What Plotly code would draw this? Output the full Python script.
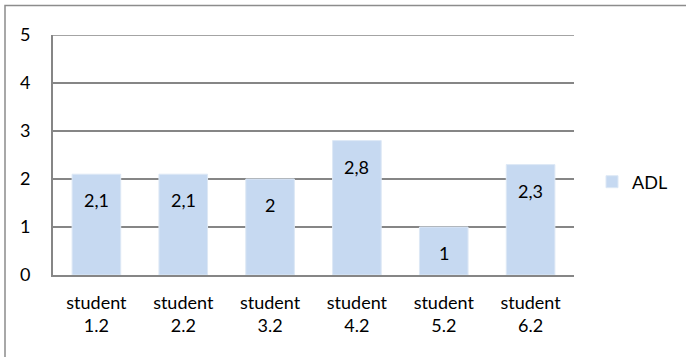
import plotly.graph_objects as go

categories = ["student<br>1.2", "student<br>2.2", "student<br>3.2", "student<br>4.2", "student<br>5.2", "student<br>6.2"]
values = [2.1, 2.1, 2.0, 2.8, 1.0, 2.3]
series_name = "ADL"
y_ticks = [0, 1, 2, 3, 4, 5]

def fmt(v):
    s = ("%g" % v)
    return s.replace(".", ",")

font_family = "Lato, 'Open Sans', sans-serif"
fsize = 18
bar_color = "#C6D9F1"
grid_color = "#868686"

fig = go.Figure()
fig.add_trace(go.Bar(
    x=categories, y=values, name=series_name,
    marker=dict(color=bar_color, line=dict(color="#DDE8F5", width=1)),
    showlegend=True,
))

for c, v in zip(categories, values):
    fig.add_annotation(x=c, y=v, text=fmt(v), showarrow=False, yshift=-26,
                       font=dict(family=font_family, size=fsize, color="#000000"))

fig.update_layout(
    width=686, height=357,
    margin=dict(l=53, r=112, t=35, b=82, autoexpand=False),
    paper_bgcolor="white", plot_bgcolor="white",
    bargap=0.44,
    separators=", ",
    font=dict(family=font_family, size=fsize, color="#000000"),
    showlegend=True,
    legend=dict(x=(592 - 53) / 521, y=0.3875, xanchor="left", yanchor="middle",
                font=dict(family=font_family, size=fsize, color="#000000"),
                itemwidth=30, bgcolor="rgba(0,0,0,0)"),
    xaxis=dict(showline=True, linecolor=grid_color, linewidth=2, showgrid=False,
               ticks="outside", ticklen=10, tickcolor="rgba(0,0,0,0)",
               tickfont=dict(size=fsize)),
    yaxis=dict(range=[0, 5], tickvals=y_ticks, showgrid=True, gridcolor=grid_color,
               gridwidth=1.5, showline=True, linecolor=grid_color, linewidth=2,
               zeroline=False, ticks="outside", ticklen=17, tickcolor="rgba(0,0,0,0)",
               tickfont=dict(size=fsize)),
    shapes=[
        dict(type="rect", xref="paper", yref="paper",
             x0=(5 - 53) / 521, x1=1.5,
             y0=-0.6, y1=(275 - 5.5) / 240,
             line=dict(color="#8C8C8C", width=1.5), fillcolor="rgba(0,0,0,0)",
             layer="below"),
        dict(type="line", xref="paper", yref="y", x0=0, x1=1,
             y0=max(y_ticks), y1=max(y_ticks),
             line=dict(color=grid_color, width=1.5), layer="below"),
    ],
)

fig.write_html("out.html")
